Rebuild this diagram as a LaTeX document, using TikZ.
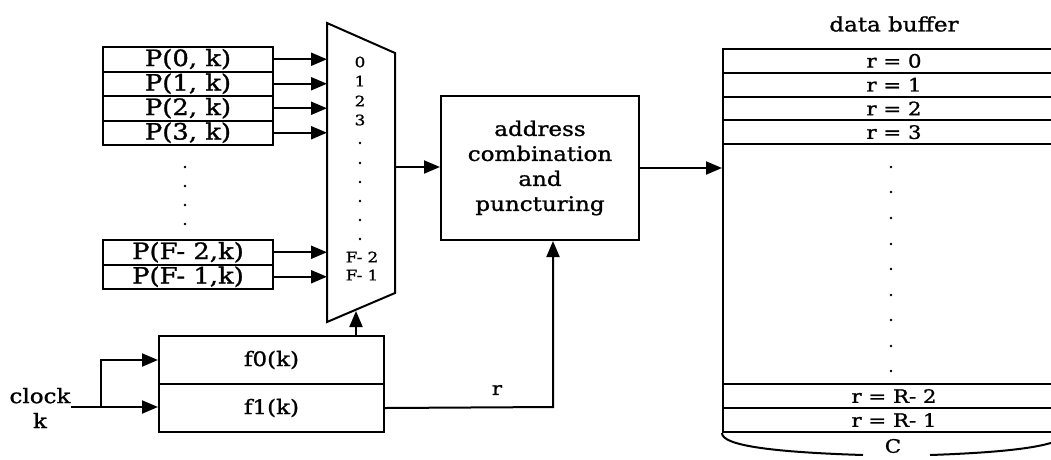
\documentclass[tikz,border=0pt]{standalone}
\usepackage{fontspec}
\setmainfont{DejaVu Serif}[FakeStretch=1.15,FakeBold=1.2]
\usetikzlibrary{arrows.meta}
\newcommand\FSbig{\fontsize{20}{25}\selectfont}
\newcommand\FSp{\fontsize{22.5}{24}\selectfont}
\newcommand\FSbuf{\fontsize{18.5}{22}\selectfont}
\newcommand\FSmux{\fontsize{14.5}{16}\selectfont}
\tikzset{
  ln/.style={line width=2pt},
  arr/.style={line width=2pt, -{Triangle[length=16pt,width=13pt]}},
  pbox/.style={draw, line width=2pt, inner sep=0pt, anchor=north west,
    minimum width=170pt, minimum height=24.5pt, font=\FSp},
  fbox/.style={draw, line width=2pt, inner sep=0pt, anchor=north west,
    minimum width=225pt, minimum height=48pt, font=\FSbig},
  brow/.style={draw, line width=2pt, inner sep=0pt, anchor=north west,
    minimum width=342pt, minimum height=23.75pt, font=\FSbuf},
  mlab/.style={inner sep=0pt, font=\FSmux},
  dotc/.style={fill=black},
}
\begin{document}
\begin{tikzpicture}[x=1pt,y=-1pt]
\useasboundingbox (0,0) rectangle (1051,459);
\begin{scope}
\clip (0,0) rectangle (1051,459);
% input registers
\node[pbox] (p0) at (102,46) {P(0, k)};
\node[pbox] (p1) at (102,70.5) {P(1, k)};
\node[pbox] (p2) at (102,95) {P(2, k)};
\node[pbox] (p3) at (102,119.5) {P(3, k)};
\node[pbox] (pf2) at (102,239) {P(F- 2,k)};
\node[pbox] (pf1) at (102,263.5) {P(F- 1,k)};
\foreach \yy in {167,186,205,224} \fill[dotc] (185,\yy) circle (1.3pt);
% multiplexer
\coordinate (mA) at (327,23);
\coordinate (mB) at (395,53);
\coordinate (mC) at (395,293);
\coordinate (mD) at (327,322);
\draw[ln, line join=miter] (mA) -- (mB) -- (mC) -- (mD) -- cycle;
\coordinate (mL) at (327,0);
\node[mlab] (m0) at (360,62) {0};
\node[mlab] (m1) at (360,81) {1};
\node[mlab] (m2) at (360,101) {2};
\node[mlab] (m3) at (360,120) {3};
\foreach \yy in {143,163,182,201,220,239} \fill[dotc] (360,\yy) circle (1.3pt);
\node[mlab] (mf2) at (362,257) {F- 2};
\node[mlab] (mf1) at (362,275) {F- 1};
\foreach \n in {p0,p1,p2,p3,pf2,pf1} \draw[arr] (\n.east) -- (\n.east -| mL);
% address combination
\node[draw, line width=2pt, inner sep=0pt, anchor=north west, minimum width=198pt,
  minimum height=144pt, align=center, font=\FSbig] (addr) at (440,95)
  {address\\combination\\and\\puncturing};
\coordinate (mout) at (395,167);
\draw[arr] (mout) -- (mout -| addr.west);
% function boxes
\node[fbox] (f0) at (158,335) {f0(k)};
\node[fbox] (f1) at (158,383) {f1(k)};
\coordinate (mbot) at (356,311);
\draw[arr] (mbot |- f0.north) -- (mbot);
% clock
\node[inner sep=0pt, align=center, font=\FSbig] (clk) at (40,408) {clock\\k};
\coordinate (br) at (101,407);
\draw[ln] (clk.east |- br) -- (br);
\draw[arr] (br) -- (br -| f1.west);
\draw[arr] (br) |- (f0.west);
% r connection
\coordinate (rc) at (553,407);
\draw[arr] (f1.east) -- (rc) -- (rc |- addr.south);
\node[font=\FSbuf, inner sep=0pt] (rlab) at (497,390) {r};
% data buffer
\node[font=\fontsize{20}{22}\selectfont, inner sep=0pt] (dbl) at (894,24) {data buffer};
\node[brow] (b0) at (722,48) {r = 0};
\node[brow] (b1) at (722,71.75) {r = 1};
\node[brow] (b2) at (722,95.5) {r = 2};
\node[brow] (b3) at (722,119.25) {r = 3};
\node[brow, minimum height=240pt] (bm) at (722,143) {};
\node[brow, minimum height=24pt] (bR2) at (722,383) {r = R- 2};
\node[brow, minimum height=24pt] (bR1) at (722,407) {r = R- 1};
\foreach \yy in {167,192,218,244,269,295,320,346,371} \fill[dotc] (891,\yy) circle (1.4pt);
\draw[arr] (addr.east) -- (addr.east -| b0.west);
% bottom brace with C
\node[font=\FSbuf, inner sep=0pt] (C) at (893,446) {C};
\coordinate (cl) at (863,455);
\coordinate (cr) at (930,455);
\draw[ln] (bR1.south west) .. controls (722,445) and (768,452) .. (cl);
\draw[ln] (cr) .. controls (1018,452) and (1064,445) .. (bR1.south east);
\end{scope}
\end{tikzpicture}
\end{document}
